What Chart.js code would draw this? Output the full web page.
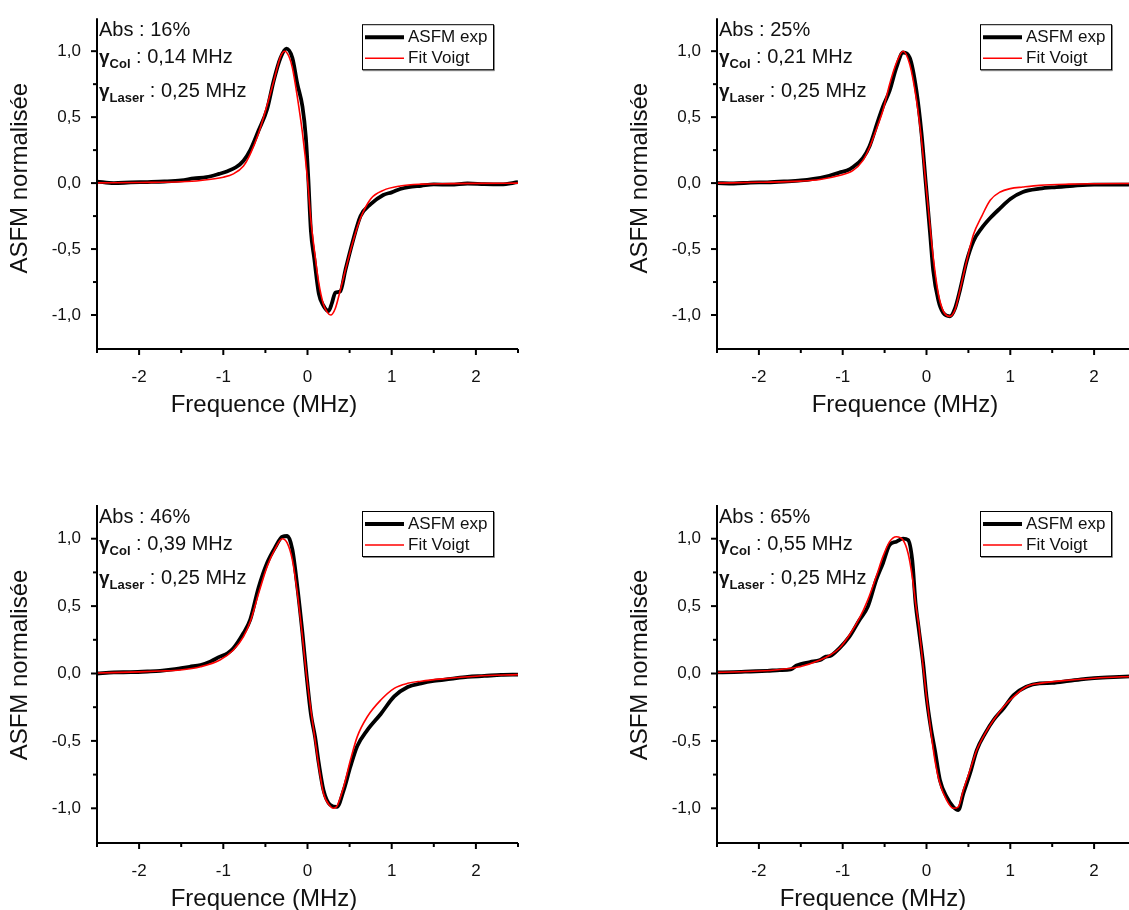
<!DOCTYPE html>
<html>
<head>
<meta charset="utf-8">
<script src="https://cdn.jsdelivr.net/npm/chart.js@4.4.0/dist/chart.umd.min.js"></script>
<style>
  html, body { margin: 0; padding: 0; background: #fff; overflow: hidden; width: 1129px; height: 910px; }
  .panel { position: absolute; }
</style>
</head>
<body>
<div class="panel" style="left:0;top:0"><canvas id="c1" width="564" height="455"></canvas></div>
<div class="panel" style="left:620px;top:0"><canvas id="c2" width="564" height="455"></canvas></div>
<div class="panel" style="left:0;top:455px"><canvas id="c3" width="564" height="455"></canvas></div>
<div class="panel" style="left:620px;top:455px"><canvas id="c4" width="564" height="455"></canvas></div>
<script>
// --- data ---
const absLabels = ['16%', '25%', '46%', '65%'];
const gammaCol = ['0,14', '0,21', '0,39', '0,55'];
const gammaLaser = ['0,25', '0,25', '0,25', '0,25'];
const yTicksShown = [-1, -0.5, 0, 0.5, 1];
const xTicksShown = [-2, -1, 0, 1, 2];

// Abs 16%
const exp16X = [-2.5, -2.3, -2.1, -1.9, -1.7, -1.5, -1.35, -1.2, -1.05, -0.95, -0.85, -0.76, -0.68, -0.58, -0.48, -0.40, -0.32, -0.25, -0.18, -0.12, -0.06, -0.02, 0.01, 0.04, 0.08, 0.135, 0.19, 0.25, 0.29, 0.33, 0.39, 0.45, 0.53, 0.63, 0.75, 0.9, 1.0, 1.1, 1.2, 1.35, 1.5, 1.7, 1.9, 2.1, 2.3, 2.5];
const exp16Y = [0.012, 0.0, 0.005, 0.008, 0.012, 0.02, 0.035, 0.045, 0.07, 0.09, 0.12, 0.17, 0.25, 0.40, 0.56, 0.78, 0.95, 1.02, 0.95, 0.75, 0.58, 0.35, 0.03, -0.36, -0.57, -0.84, -0.93, -0.97, -0.91, -0.83, -0.82, -0.66, -0.46, -0.25, -0.16, -0.09, -0.07, -0.045, -0.03, -0.02, -0.01, -0.012, -0.003, -0.008, -0.01, 0.007];
const fit16X = [-2.5, -2.0, -1.5, -1.27, -1.0, -0.88, -0.76, -0.68, -0.58, -0.48, -0.40, -0.32, -0.27, -0.22, -0.18, -0.12, -0.06, 0.0, 0.04, 0.08, 0.135, 0.19, 0.235, 0.275, 0.33, 0.39, 0.45, 0.53, 0.63, 0.75, 0.9, 1.1, 1.35, 1.7, 2.0, 2.5];
const fit16Y = [0.002, 0.005, 0.01, 0.02, 0.045, 0.07, 0.13, 0.22, 0.38, 0.59, 0.775, 0.96, 1.0, 0.96, 0.875, 0.65, 0.38, 0.03, -0.28, -0.5, -0.76, -0.92, -0.98, -1.0, -0.95, -0.81, -0.66, -0.465, -0.265, -0.12, -0.055, -0.022, -0.008, -0.004, -0.002, 0.0];

// Abs 25%
const exp25X = [-2.5, -2.3, -2.1, -1.9, -1.7, -1.5, -1.35, -1.2, -1.04, -0.95, -0.88, -0.76, -0.68, -0.58, -0.52, -0.44, -0.36, -0.28, -0.2, -0.12, -0.06, -0.01, 0.04, 0.08, 0.14, 0.2, 0.28, 0.34, 0.4, 0.48, 0.56, 0.66, 0.76, 0.88, 1.0, 1.15, 1.35, 1.55, 1.75, 2.0, 2.2, 2.5];
const exp25Y = [0.0, -0.003, 0.004, 0.006, 0.012, 0.02, 0.032, 0.05, 0.08, 0.095, 0.12, 0.19, 0.28, 0.47, 0.58, 0.70, 0.875, 0.99, 0.95, 0.70, 0.38, 0.01, -0.36, -0.66, -0.885, -0.985, -1.01, -0.95, -0.81, -0.59, -0.44, -0.34, -0.265, -0.19, -0.12, -0.067, -0.042, -0.03, -0.02, -0.012, -0.012, -0.01];
const fit25X = [-2.5, -2.0, -1.5, -1.27, -1.04, -0.88, -0.76, -0.68, -0.58, -0.52, -0.44, -0.36, -0.28, -0.2, -0.12, -0.06, -0.01, 0.04, 0.08, 0.14, 0.2, 0.28, 0.34, 0.4, 0.48, 0.56, 0.66, 0.76, 0.88, 1.0, 1.15, 1.35, 1.7, 2.0, 2.5];
const fit25Y = [0.0, 0.006, 0.015, 0.027, 0.057, 0.094, 0.17, 0.27, 0.44, 0.55, 0.75, 0.91, 1.0, 0.9, 0.63, 0.33, 0.01, -0.315, -0.56, -0.835, -0.97, -1.01, -0.96, -0.81, -0.59, -0.39, -0.25, -0.13, -0.067, -0.042, -0.03, -0.017, -0.008, -0.005, -0.003];

// Abs 46%
const exp46X = [-2.5, -2.3, -2.1, -1.9, -1.75, -1.6, -1.5, -1.4, -1.27, -1.15, -1.04, -0.95, -0.88, -0.76, -0.68, -0.58, -0.48, -0.38, -0.3, -0.24, -0.18, -0.12, -0.06, -0.01, 0.04, 0.09, 0.135, 0.19, 0.27, 0.35, 0.43, 0.51, 0.59, 0.71, 0.87, 1.03, 1.19, 1.35, 1.5, 1.7, 1.9, 2.1, 2.3, 2.5];
const exp46Y = [0.0, 0.008, 0.01, 0.015, 0.02, 0.03, 0.04, 0.05, 0.063, 0.09, 0.125, 0.15, 0.187, 0.3, 0.4, 0.64, 0.82, 0.94, 1.015, 1.02, 0.92, 0.64, 0.30, -0.02, -0.3, -0.47, -0.67, -0.865, -0.975, -0.99, -0.865, -0.69, -0.54, -0.42, -0.3, -0.17, -0.1, -0.073, -0.055, -0.04, -0.025, -0.018, -0.01, -0.008];
const fit46X = [-2.5, -2.0, -1.75, -1.51, -1.27, -1.04, -0.88, -0.76, -0.68, -0.58, -0.48, -0.38, -0.3, -0.24, -0.18, -0.12, -0.06, -0.01, 0.04, 0.09, 0.135, 0.19, 0.27, 0.31, 0.35, 0.43, 0.51, 0.59, 0.71, 0.87, 1.03, 1.19, 1.35, 1.6, 2.0, 2.5];
const fit46Y = [0.004, 0.012, 0.018, 0.026, 0.05, 0.1, 0.174, 0.273, 0.385, 0.595, 0.793, 0.93, 1.0, 0.967, 0.843, 0.595, 0.273, -0.024, -0.271, -0.494, -0.692, -0.89, -0.984, -1.0, -0.984, -0.84, -0.642, -0.47, -0.321, -0.197, -0.11, -0.073, -0.057, -0.04, -0.02, -0.008];

// Abs 65%
const exp65X = [-2.5, -2.3, -2.1, -1.9, -1.75, -1.62, -1.55, -1.5, -1.39, -1.27, -1.2, -1.15, -1.04, -0.92, -0.8, -0.7, -0.6, -0.52, -0.44, -0.36, -0.28, -0.22, -0.17, -0.13, -0.09, -0.04, 0.0, 0.05, 0.1, 0.16, 0.24, 0.32, 0.38, 0.44, 0.52, 0.6, 0.7, 0.8, 0.92, 1.04, 1.19, 1.35, 1.5, 1.7, 1.9, 2.1, 2.3, 2.5];
const exp65Y = [0.008, 0.01, 0.015, 0.02, 0.025, 0.03, 0.06, 0.07, 0.085, 0.1, 0.125, 0.13, 0.187, 0.273, 0.397, 0.496, 0.694, 0.818, 0.954, 0.978, 1.0, 0.99, 0.84, 0.52, 0.32, 0.076, -0.172, -0.395, -0.568, -0.79, -0.915, -0.99, -1.013, -0.89, -0.74, -0.568, -0.444, -0.345, -0.258, -0.16, -0.098, -0.073, -0.07, -0.055, -0.04, -0.03, -0.025, -0.02];
const fit65X = [-2.5, -2.0, -1.75, -1.51, -1.27, -1.15, -1.04, -0.92, -0.8, -0.7, -0.6, -0.52, -0.44, -0.36, -0.28, -0.22, -0.17, -0.13, -0.09, -0.04, 0.0, 0.05, 0.1, 0.16, 0.24, 0.32, 0.38, 0.44, 0.52, 0.6, 0.7, 0.8, 0.92, 1.04, 1.19, 1.35, 1.6, 2.0, 2.5];
const fit65Y = [0.008, 0.018, 0.03, 0.05, 0.1, 0.137, 0.187, 0.286, 0.41, 0.546, 0.719, 0.867, 0.978, 1.015, 0.99, 0.892, 0.719, 0.521, 0.347, 0.05, -0.172, -0.42, -0.642, -0.815, -0.94, -1.0, -0.989, -0.865, -0.716, -0.568, -0.444, -0.345, -0.246, -0.172, -0.098, -0.073, -0.055, -0.035, -0.02];

const FONT = '"Liberation Sans", Arial, sans-serif';
const TXT = '#111';

const toPts = (xs, ys) => xs.map((x, i) => ({ x: x, y: ys[i] }));
const near = (v, step) => Math.abs(v / step - Math.round(v / step)) < 1e-6;

function drawGamma(ctx, x, base, sub, val) {
  ctx.font = 'bold 19px ' + FONT;
  ctx.fillText('γ', x, base);
  let w = ctx.measureText('γ').width;
  ctx.font = 'bold 13px ' + FONT;
  ctx.fillText(sub, x + w, base + 5);
  w += ctx.measureText(sub).width;
  ctx.font = '20px ' + FONT;
  ctx.fillText(' : ' + val + ' MHz', x + w, base);
}

// axes, ticks, titles, text and legend box
const decor = {
  id: 'decor',
  afterDraw(chart, args, o) {
    const ctx = chart.ctx, a = chart.chartArea;
    const xs = chart.scales.x, ys = chart.scales.y;
    ctx.save();
    ctx.strokeStyle = '#000';
    ctx.lineWidth = 2;
    ctx.beginPath();
    ctx.moveTo(a.left, a.top); ctx.lineTo(a.left, a.bottom + 1); ctx.lineTo(a.right, a.bottom + 1);
    ctx.stroke();
    xs.ticks.forEach(t => {
      const px = xs.getPixelForValue(t.value);
      const len = near(t.value, 1) ? 6 : 4;
      ctx.beginPath(); ctx.moveTo(px, a.bottom + 1); ctx.lineTo(px, a.bottom + 1 + len); ctx.stroke();
    });
    ys.ticks.forEach(t => {
      if (Math.abs(t.value) > 1.2) return;
      const py = ys.getPixelForValue(t.value);
      const len = near(t.value, 0.5) ? 6 : 4;
      ctx.beginPath(); ctx.moveTo(a.left, py); ctx.lineTo(a.left - len, py); ctx.stroke();
    });

    // axis titles
    ctx.fillStyle = TXT;
    ctx.font = '24px ' + FONT;
    ctx.textAlign = 'center';
    ctx.textBaseline = 'middle';
    ctx.fillText('Frequence (MHz)', a.left + o.xTitleDx, a.bottom + 57);
    ctx.save();
    ctx.translate(a.left - 77, a.top + 160);
    ctx.rotate(-Math.PI / 2);
    ctx.fillText('ASFM normalisée', 0, 0);
    ctx.restore();

    // parameters text
    ctx.textAlign = 'left';
    ctx.textBaseline = 'alphabetic';
    const tx = a.left + 2;
    ctx.font = '20px ' + FONT;
    ctx.fillText('Abs : ' + o.abs, tx, a.top + 18);
    drawGamma(ctx, tx, a.top + 45, 'Col', o.col);
    drawGamma(ctx, tx, a.top + 79, 'Laser', o.laser);

    // legend box
    const bw = 131, bh = 45;
    const bx = a.right - 25 - bw, by = a.top + 6;
    ctx.fillStyle = '#fff';
    ctx.fillRect(bx, by, bw, bh);
    ctx.strokeStyle = '#888';
    ctx.lineWidth = 1;
    ctx.beginPath(); ctx.moveTo(bx + 1, by + bh + 1.5); ctx.lineTo(bx + bw + 1.5, by + bh + 1.5); ctx.lineTo(bx + bw + 1.5, by + 1); ctx.stroke();
    ctx.strokeStyle = '#000';
    ctx.strokeRect(bx + 0.5, by + 0.5, bw, bh);
    ctx.lineWidth = 4;
    ctx.beginPath(); ctx.moveTo(bx + 3, by + 13); ctx.lineTo(bx + 42, by + 13); ctx.stroke();
    ctx.strokeStyle = '#ff0000';
    ctx.lineWidth = 1.6;
    ctx.beginPath(); ctx.moveTo(bx + 3, by + 34); ctx.lineTo(bx + 42, by + 34); ctx.stroke();
    ctx.fillStyle = TXT;
    ctx.font = '17px ' + FONT;
    ctx.textBaseline = 'middle';
    ctx.fillText('ASFM exp', bx + 46, by + 13);
    ctx.fillText('Fit Voigt', bx + 46, by + 34);
    ctx.restore();
  }
};

function makeChart(id, expX, expY, fitX, fitY, k, lay) {
  const ctx = document.getElementById(id).getContext('2d');
  return new Chart(ctx, {
    type: 'scatter',
    data: {
      datasets: [
        {
          label: 'ASFM exp',
          data: toPts(expX, expY),
          showLine: true,
          borderColor: '#000',
          borderWidth: 3.8,
          pointRadius: 0,
          cubicInterpolationMode: 'monotone',
          order: 2
        },
        {
          label: 'Fit Voigt',
          data: toPts(fitX, fitY),
          showLine: true,
          borderColor: '#ff0000',
          borderWidth: 1.6,
          pointRadius: 0,
          cubicInterpolationMode: 'monotone',
          order: 1
        }
      ]
    },
    options: {
      responsive: false,
      animation: false,
      events: [],
      layout: { padding: { top: lay.top, right: lay.right, left: 0, bottom: 0 } },
      plugins: {
        legend: { display: false },
        tooltip: { enabled: false },
        decor: {
          abs: absLabels[k], col: gammaCol[k], laser: gammaLaser[k],
          xTitleDx: lay.xTitleDx
        }
      },
      scales: {
        x: {
          type: 'linear',
          min: -2.5, max: 2.5,
          grid: { display: false },
          border: { display: false },
          afterFit: s => { s.height = lay.xh; },
          ticks: {
            stepSize: 0.5,
            autoSkip: false,
            maxRotation: 0,
            padding: 11,
            color: TXT,
            font: { family: FONT, size: 17 },
            callback: v => xTicksShown.some(t => Math.abs(t - v) < 1e-6) ? String(Math.round(v)) : ''
          }
        },
        y: {
          min: -1.25, max: 1.25,
          grid: { display: false },
          border: { display: false },
          afterFit: s => { s.width = 97; },
          ticks: {
            stepSize: 0.25,
            autoSkip: false,
            padding: 8,
            color: TXT,
            font: { family: FONT, size: 17 },
            callback: v => yTicksShown.some(t => Math.abs(t - v) < 1e-6) ? v.toFixed(1).replace('.', ',') : ''
          }
        }
      }
    },
    plugins: [decor]
  });
}

makeChart('c1', exp16X, exp16Y, fit16X, fit16Y, 0, { top: 13, right: 46, xh: 107, xTitleDx: 167 });
makeChart('c2', exp25X, exp25Y, fit25X, fit25Y, 1, { top: 13, right: 48, xh: 107, xTitleDx: 188 });
makeChart('c3', exp46X, exp46Y, fit46X, fit46Y, 2, { top: 50, right: 46, xh: 68, xTitleDx: 167 });
makeChart('c4', exp65X, exp65Y, fit65X, fit65Y, 3, { top: 50, right: 48, xh: 68, xTitleDx: 156 });
</script>
</body>
</html>
